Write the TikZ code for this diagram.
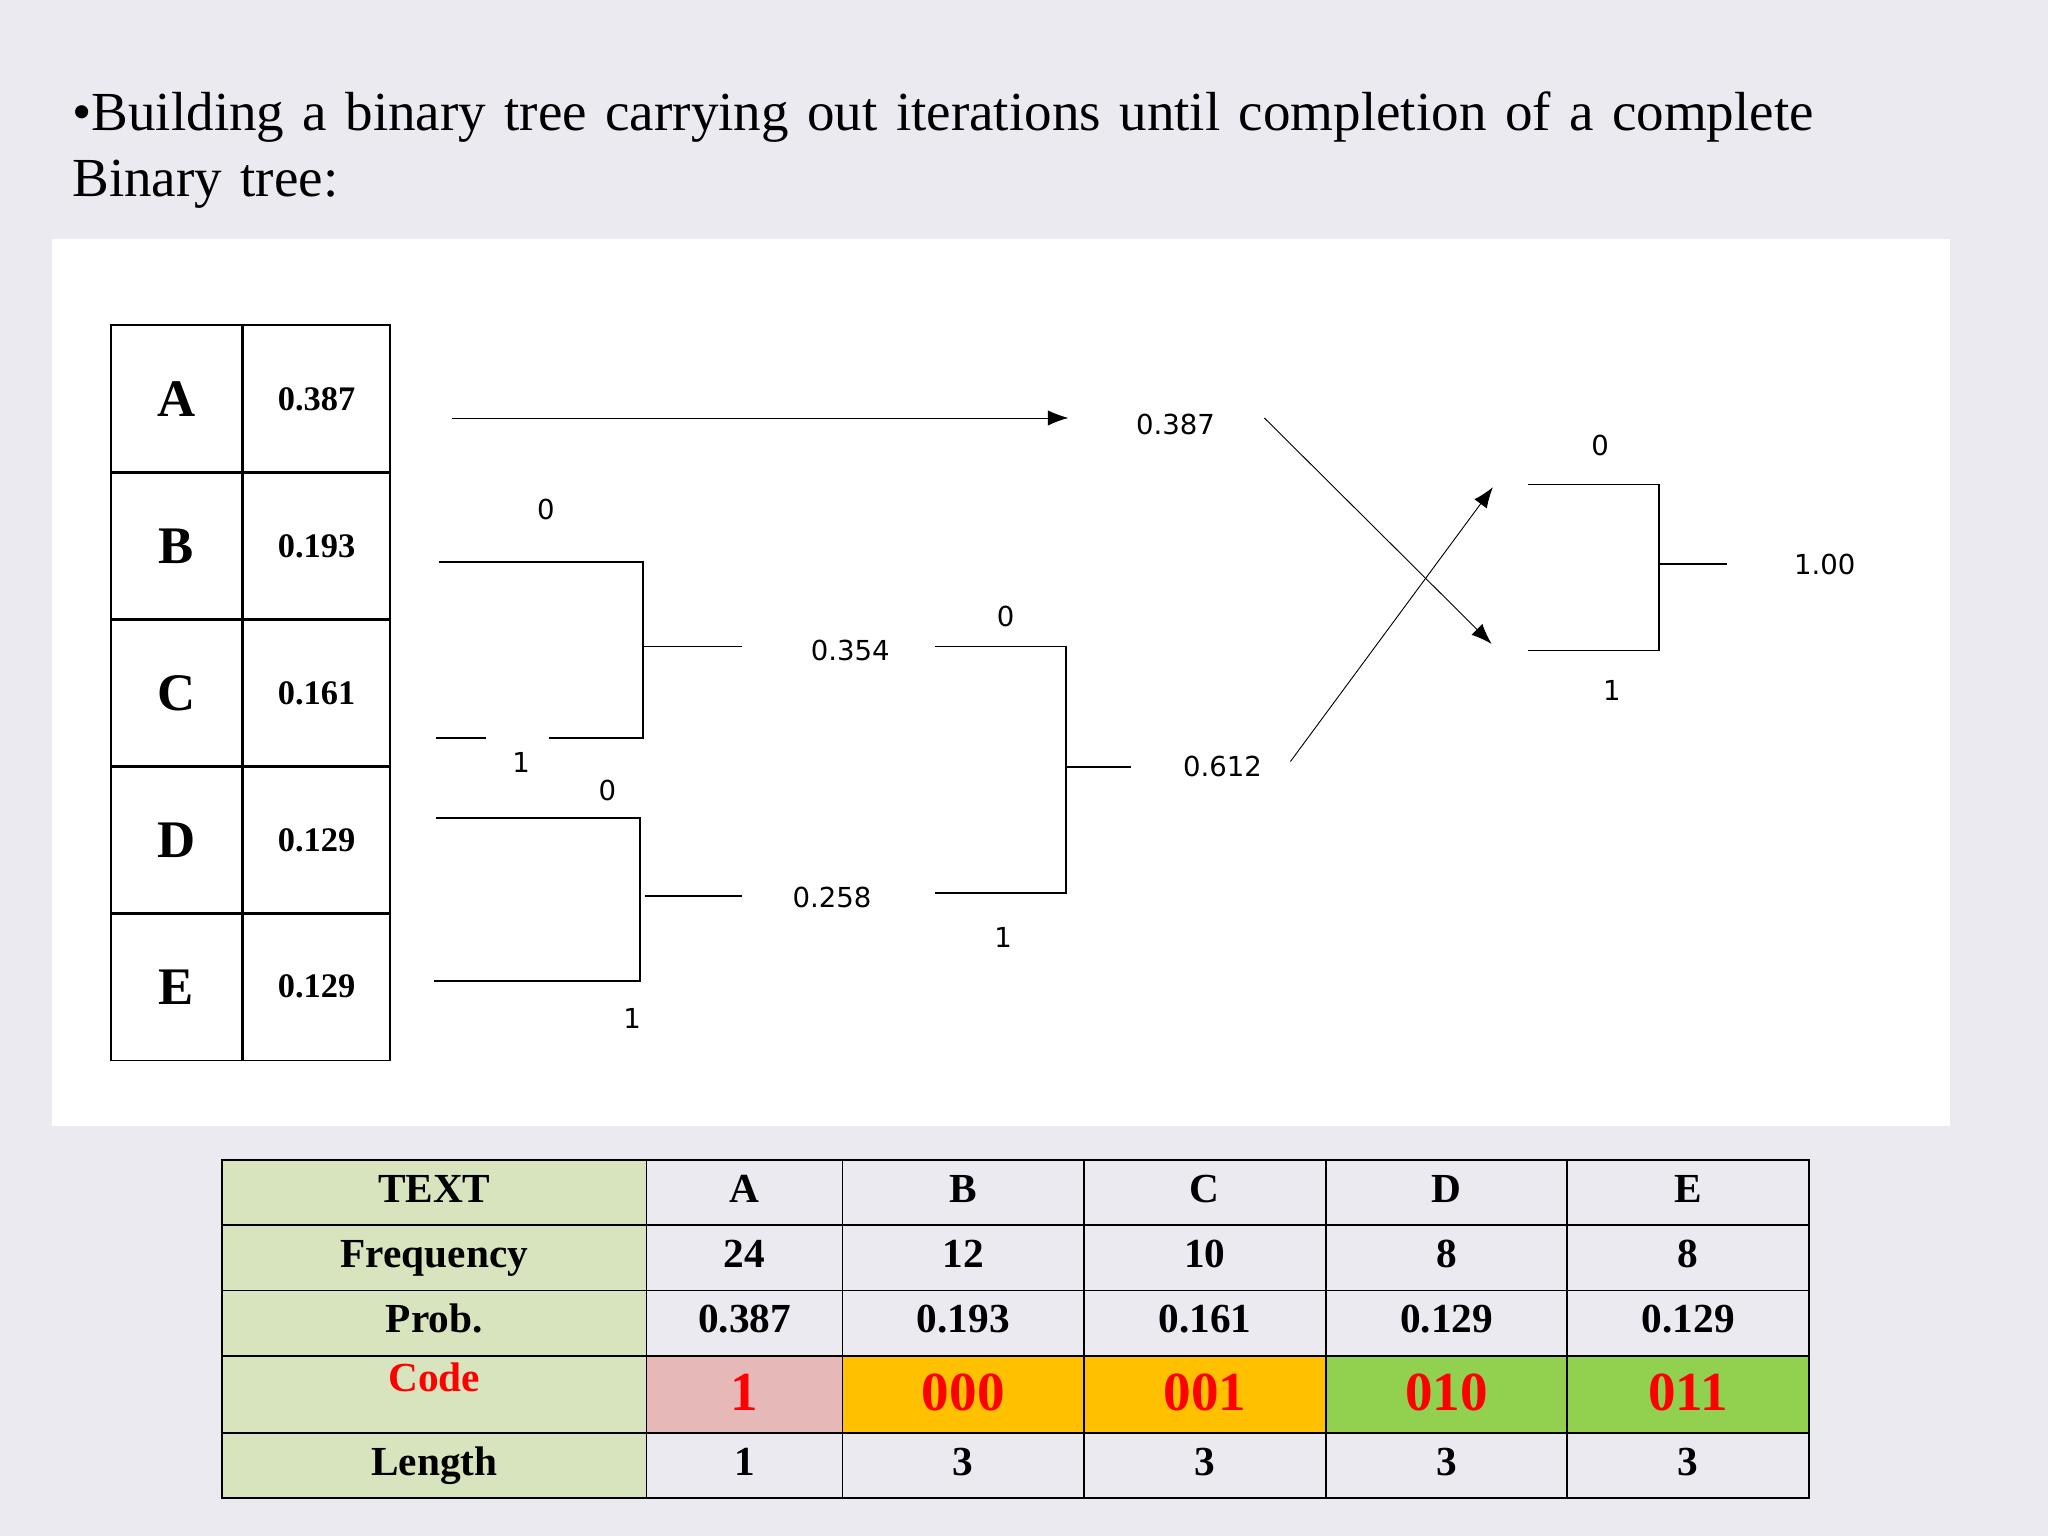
\documentclass[tikz,border=0pt]{standalone}
\usepackage{fontspec}
\setmainfont{Liberation Serif}
\newfontfamily\treefont{DejaVu Sans}
\usetikzlibrary{positioning}
\usetikzlibrary{arrows.meta}
\definecolor{slidebg}{HTML}{EBEAF0}
\definecolor{headgreen}{HTML}{D7E4BD}
\definecolor{codepink}{HTML}{E6B9B8}
\definecolor{codeorange}{HTML}{FFC000}
\definecolor{codegreen}{HTML}{92D050}

\begin{document}
\begin{tikzpicture}[x=0.02cm, y=-0.02cm,
    treelbl/.style={font=\treefont\fontsize{12}{14}\selectfont},
    tcell/.style={draw, thick, inner sep=0pt, text height=0.4cm, text depth=0.1cm,
        font=\bfseries\fontsize{18}{20}\selectfont}]
    % Background and panel
    \fill[slidebg] (0,0) rectangle (1568,1176);
    \useasboundingbox (0,0) rectangle (1568,1176);
    \fill[white] (40,183) rectangle (1493,862);

    % Title
    \node (title) [anchor=north west, align=left, inner sep=0pt, text width=28cm,
        font=\fontsize{24}{28.5}\selectfont] at (55,70)
        {\raggedright\textbullet Building a binary tree carrying out iterations until completion of a complete Binary tree:};

    % Left table of symbols
    \foreach \sym/\pr [count=\i from 0] in {A/0.387, B/0.193, C/0.161, D/0.129, E/0.129} {
        \node (s\i) [draw, thick, minimum width=2cm, minimum height=2.26cm, inner sep=0pt,
            font=\bfseries\fontsize{23}{25}\selectfont] at (135,305.5+112.5*\i) {\sym};
        \node (p\i) [draw, thick, minimum width=2.24cm, minimum height=2.26cm, inner sep=0pt,
            font=\bfseries\fontsize{15}{17}\selectfont, right=0pt of s\i] {\pr};
    }

    % First merge: B and C
    \coordinate (b1) at (336,430); \coordinate (b2) at (492,430);
    \coordinate (c1) at (334,565); \coordinate (c2) at (372,565);
    \coordinate (c3) at (420,565); \coordinate (c4) at (492,565);
    \coordinate (bc1) at (492,495); \coordinate (bc2) at (568,495);
    \draw[thick] (b1) -- (b2) -- (c4) -- (c3);
    \draw[thick] (c1) -- (c2);
    \draw[thick] (bc1) -- (bc2);
    \node (l0a) [treelbl] at (418,390) {0};
    \node (l1a) [treelbl] at (399,584) {1};
    \node (v354) [treelbl] at (651,498) {0.354};

    % Second merge: D and E
    \coordinate (d1) at (334,626); \coordinate (d2) at (490,626);
    \coordinate (e1) at (332,751); \coordinate (e2) at (490,751);
    \coordinate (de1) at (494,686); \coordinate (de2) at (568,686);
    \draw[thick] (d1) -- (d2) -- (e2) -- (e1);
    \draw[thick] (de1) -- (de2);
    \node (l0b) [treelbl] at (465,605) {0};
    \node (l1b) [treelbl] at (484,780) {1};
    \node (v258) [treelbl] at (637,687) {0.258};

    % Third merge
    \coordinate (m1) at (716,495); \coordinate (m2) at (816,495);
    \coordinate (m3) at (816,684); \coordinate (m4) at (716,684);
    \coordinate (mo1) at (816,587); \coordinate (mo2) at (866,587);
    \draw[thick] (m1) -- (m2) -- (m3) -- (m4);
    \draw[thick] (mo1) -- (mo2);
    \node (l0c) [treelbl] at (770,472) {0};
    \node (l1c) [treelbl] at (768,718) {1};
    \node (v612) [treelbl] at (936,587) {0.612};

    % A passes straight through
    \coordinate (a1) at (346,320); \coordinate (a2) at (818,320);
    \draw[-{Latex[length=9pt]}] (a1) -- (a2);
    \node (v387) [treelbl] at (900,325) {0.387};

    % Swap of the two branches
    \coordinate (x1) at (968,320); \coordinate (x2) at (1142,493);
    \coordinate (y1) at (988,583); \coordinate (y2) at (1143,373);
    \draw[-{Latex[length=9pt]}] (x1) -- (x2);
    \draw[-{Latex[length=9pt]}] (y1) -- (y2);

    % Root
    \coordinate (r1) at (1170,371); \coordinate (r2) at (1270,371);
    \coordinate (r3) at (1270,498); \coordinate (r4) at (1170,498);
    \coordinate (ro1) at (1270,432); \coordinate (ro2) at (1322,432);
    \draw[thick] (r1) -- (r2) -- (r3) -- (r4);
    \draw[thick] (ro1) -- (ro2);
    \node (l0d) [treelbl] at (1225,341) {0};
    \node (l1d) [treelbl] at (1234,529) {1};
    \node (v100) [treelbl] at (1397,432) {1.00};

    % Code table
    \foreach \name/\ya/\yb [count=\r] in {TEXT/888/938, Frequency/938/988, Prob./988/1038, Length/1097/1147} {
        \node (h\r) [tcell, fill=headgreen, minimum width=6.5cm, minimum height=(\yb-\ya)*0.02cm]
            at (332.5,{(\ya+\yb)/2}) {\name};
    }
    \node (hc) [tcell, fill=headgreen, minimum width=6.5cm, minimum height=1.18cm, text=red,
        text depth=0.5cm] at (332.5,1067.5) {Code};
    \foreach \xa/\xb/\t/\f/\p/\c/\col/\l [count=\k] in
        {495/645/A/24/0.387/1/codepink/1, 645/830/B/12/0.193/000/codeorange/3,
         830/1015/C/10/0.161/001/codeorange/3, 1015/1200/D/8/0.129/010/codegreen/3,
         1200/1385/E/8/0.129/011/codegreen/3} {
        \node (t\k) [tcell, minimum width=(\xb-\xa)*0.02cm, minimum height=1cm] at ({(\xa+\xb)/2},913) {\t};
        \node (f\k) [tcell, minimum width=(\xb-\xa)*0.02cm, minimum height=1cm] at ({(\xa+\xb)/2},963) {\f};
        \node (q\k) [tcell, minimum width=(\xb-\xa)*0.02cm, minimum height=1cm] at ({(\xa+\xb)/2},1013) {\p};
        \node (c\k) [tcell, fill=\col, text=red, font=\bfseries\fontsize{24}{26}\selectfont,
            text height=0.55cm, text depth=0.05cm,
            minimum width=(\xb-\xa)*0.02cm, minimum height=1.18cm] at ({(\xa+\xb)/2},1067.5) {\c};
        \node (n\k) [tcell, minimum width=(\xb-\xa)*0.02cm, minimum height=1cm] at ({(\xa+\xb)/2},1122) {\l};
    }
\end{tikzpicture}
\end{document}
